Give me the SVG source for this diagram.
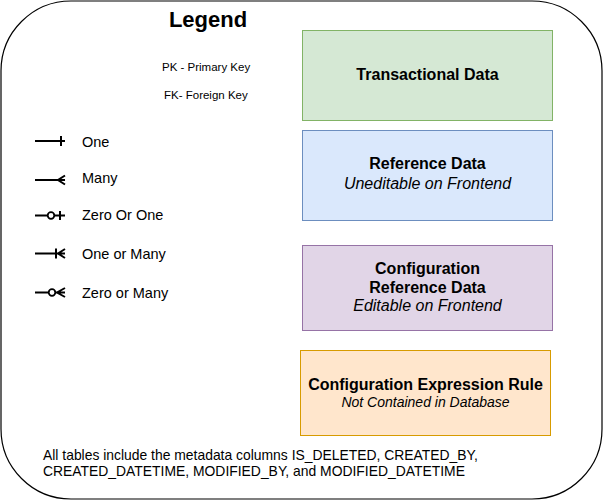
<svg xmlns="http://www.w3.org/2000/svg" width="603" height="501" viewBox="0 0 603 501">
<style>
.t{font-family:"Liberation Sans",Arial,sans-serif;fill:#000}
.b{font-weight:bold;font-size:16px;text-anchor:middle}
.i{font-style:italic;font-size:16px;text-anchor:middle}
.lbl{font-size:14.5px}
.sym{fill:none;stroke:#000;stroke-width:2}
.circ{fill:#fff;stroke:#000;stroke-width:1.8}
</style>
<rect x="1" y="1" width="601" height="498" rx="70" ry="70" fill="#fff" stroke="#000" stroke-width="1.2"/>
<g id="title">
<text class="t" x="208" y="27" font-size="22" font-weight="bold" text-anchor="middle">Legend</text>
<text class="t" x="162" y="71" font-size="11.5">PK - Primary Key</text>
<text class="t" x="164" y="99" font-size="11.5">FK- Foreign Key</text>
</g>
<g id="legend-symbols">
<g id="one">
<path class="sym" d="M35 141H65M61 136V146"/>
<text class="t lbl" x="82" y="147">One</text>
</g>
<g id="many">
<path class="sym" d="M35 180H65M65 175.5L58 180L65 184.5"/>
<text class="t lbl" x="82" y="183">Many</text>
</g>
<g id="zero-or-one">
<path class="sym" d="M35 215.5H48M54 215.5H65M60 211V220"/>
<circle class="circ" cx="51" cy="215.5" r="3.3"/>
<text class="t lbl" x="82" y="220">Zero Or One</text>
</g>
<g id="one-or-many">
<path class="sym" d="M35 253.5H65M56 248.5V258.5M65 249L58 253.5L65 258"/>
<text class="t lbl" x="82" y="259">One or Many</text>
</g>
<g id="zero-or-many">
<path class="sym" d="M35 292.5H49M55 292.5H65M65 288L57 292.5L65 297"/>
<circle class="circ" cx="52" cy="292.5" r="3.3"/>
<text class="t lbl" x="82" y="298">Zero or Many</text>
</g>
</g>
<g id="transactional">
<rect x="302.5" y="30.5" width="250" height="90" fill="#d5e8d4" stroke="#82b366"/>
<text class="t b" x="427.5" y="80">Transactional Data</text>
</g>
<g id="reference">
<rect x="302.5" y="130.5" width="250" height="90" fill="#dae8fc" stroke="#6c8ebf"/>
<text class="t b" x="427.5" y="169">Reference Data</text>
<text class="t i" x="427.5" y="188.5">Uneditable on Frontend</text>
</g>
<g id="config-reference">
<rect x="302.5" y="245.5" width="250" height="85" fill="#e1d5e7" stroke="#9673a6"/>
<text class="t b" x="427.5" y="273.5">Configuration</text>
<text class="t b" x="427.5" y="292.5">Reference Data</text>
<text class="t i" x="427.5" y="311">Editable on Frontend</text>
</g>
<g id="config-expression">
<rect x="300.5" y="350.5" width="250" height="85" fill="#ffe6cc" stroke="#d79b00"/>
<text class="t b" x="425.5" y="389.5">Configuration Expression Rule</text>
<text class="t" x="425.5" y="407" font-size="14" font-style="italic" text-anchor="middle">Not Contained in Database</text>
</g>
<g id="note">
<text class="t" x="43" y="459.5" font-size="13.9">All tables include the metadata columns IS_DELETED, CREATED_BY,</text>
<text class="t" x="43" y="476" font-size="13.9">CREATED_DATETIME, MODIFIED_BY, and MODIFIED_DATETIME</text>
</g>
<g id="connectors"/>
</svg>
